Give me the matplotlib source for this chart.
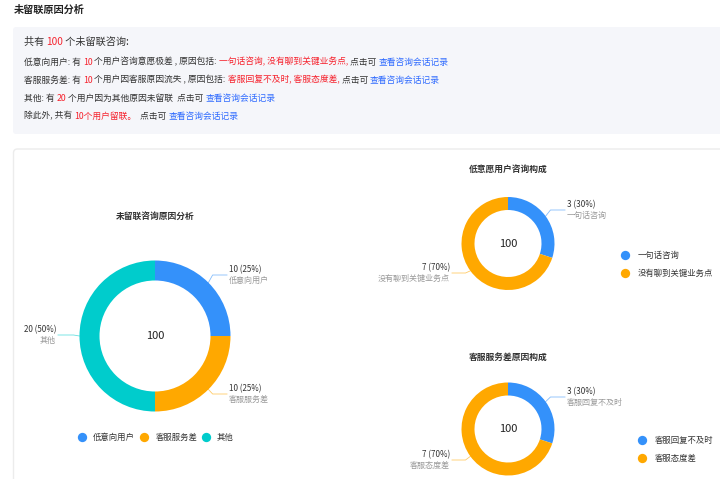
import matplotlib
matplotlib.use("Agg")
import matplotlib.pyplot as plt
from matplotlib.patches import FancyBboxPatch
import numpy as np

plt.rcParams['font.family'] = ['Noto Sans CJK SC', 'DejaVu Sans']

# ---------------- data ----------------
total = 100
main_title = '未留联咨询原因分析'
main_labels = ['低意向用户', '客服服务差', '其他']
main_values = [10, 10, 20]

low_title = '低意愿用户咨询构成'
low_labels = ['一句话咨询', '没有聊到关键业务点']
low_values = [3, 7]

svc_title = '客服服务差原因构成'
svc_labels = ['客服回复不及时', '客服态度差']
svc_values = [3, 7]

colors = ['#3491FA', '#FFA800', '#00CCCC']

DARK = '#333333'
RED = '#F5222D'
LINK = '#2F6BFF'
GRAY = '#999999'

summary_lines = [
    [('共有 ', DARK), ('100', RED), (' 个未留联咨询:', DARK)],
    [('低意向用户: 有 ', DARK), ('10', RED), (' 个用户咨询意愿极差 , 原因包括: ', DARK),
     ('一句话咨询, 没有聊到关键业务点,', RED), (' 点击可 ', DARK), ('查看咨询会话记录', LINK)],
    [('客服服务差: 有 ', DARK), ('10', RED), (' 个用户因客服原因流失 , 原因包括: ', DARK),
     ('客服回复不及时, 客服态度差,', RED), (' 点击可 ', DARK), ('查看咨询会话记录', LINK)],
    [('其他: 有 ', DARK), ('20', RED), (' 个用户因为其他原因未留联  点击可 ', DARK), ('查看咨询会话记录', LINK)],
    [('除此外, 共有 ', DARK), ('10个用户留联。', RED), ('  点击可 ', DARK), ('查看咨询会话记录', LINK)],
]

W, H = 720, 479
fig = plt.figure(figsize=(W / 100, H / 100), dpi=100)
ax = fig.add_axes([0, 0, 1, 1])


def Y(py):
    return H - py


# header
ax.text(14, Y(10), '未留联原因分析', fontsize=7.3, fontweight='bold', color='#222222',
        ha='left', va='center')

# summary box
ax.add_patch(FancyBboxPatch((13, Y(134)), 720, 107, boxstyle='round,pad=0,rounding_size=3',
                            facecolor='#F5F6FA', edgecolor='none'))
line_y = [42, 62, 80, 98, 116]
for i, segs in enumerate(summary_lines):
    fs = 7.3 if i == 0 else 6.3
    prev = None
    for s, c in segs:
        if prev is None:
            prev = ax.text(24, Y(line_y[i]), s, fontsize=fs, color=c, ha='left', va='center')
        else:
            prev = ax.annotate(s, xy=(1, 0), xycoords=prev, fontsize=fs, color=c,
                               ha='left', va='bottom')

# panel
ax.add_patch(FancyBboxPatch((13.5, Y(490)), 720, 341, boxstyle='round,pad=0,rounding_size=4',
                            facecolor='white', edgecolor='#ECECEC', linewidth=1))


def donut(values, labels, title, cx, cy, r, w, title_y, label_pos, legend):
    cols = colors[:len(values)]
    ax.pie(values, colors=cols, center=(cx, Y(cy)), radius=r, startangle=90,
           counterclock=False, wedgeprops=dict(width=w, edgecolor='none', linewidth=0),
           frame=True)
    ax.text(cx, Y(title_y), title, fontsize=6.3, fontweight='bold', color='#333333',
            ha='center', va='center')
    ax.text(cx, Y(cy), str(total), fontsize=8, color='#222222', ha='center', va='center')
    s = float(sum(values))
    start = 90.0
    for v, lab, col, (tx, ty, ha) in zip(values, labels, cols, label_pos):
        ang = start - v / s * 360 / 2
        start -= v / s * 360
        a = np.deg2rad(ang)
        px, py = cx + r * np.cos(a), Y(cy) + r * np.sin(a)
        ex, ey = cx + (r + 6) * np.cos(a), Y(cy) + (r + 6) * np.sin(a)
        ly = Y(ty + 5)
        endx = tx - 2 if ha == 'left' else tx + 2
        ax.plot([px, ex, endx], [py, ly, ly], color=col, lw=0.6, alpha=0.6)
        ax.text(tx, Y(ty), f'{v} ({v / s * 100:.0f}%)', fontsize=5.8, color='#333333',
                ha=ha, va='center')
        ax.text(tx, Y(ty + 10.5), lab, fontsize=5.8, color=GRAY, ha=ha, va='center')
    for (lx, ly, tdx), lab, col in zip(legend, labels, cols):
        ax.scatter([lx], [Y(ly)], s=45, color=col, zorder=5, linewidths=0)
        ax.text(lx + tdx, Y(ly), lab, fontsize=6, color='#333333', ha='left', va='center')


donut(main_values, main_labels, main_title, 155, 336, 75.5, 20, 216,
      [(229, 270, 'left'), (229, 389, 'left'), (56, 330, 'right')],
      [(82, 437, 11), (144, 437, 12), (206, 437, 11)])
donut(low_values, low_labels, low_title, 508, 243.5, 46.5, 13, 170,
      [(567, 205, 'left'), (450, 268, 'right')],
      [(625, 255, 13), (625, 273, 13)])
donut(svc_values, svc_labels, svc_title, 508, 429, 46.5, 13, 357,
      [(567, 392, 'left'), (450, 455, 'right')],
      [(642, 440, 13), (642, 458, 13)])

ax.set_xlim(0, W)
ax.set_ylim(0, H)
ax.set_aspect('auto')
ax.axis('off')

fig.savefig('out.png', dpi=100)
